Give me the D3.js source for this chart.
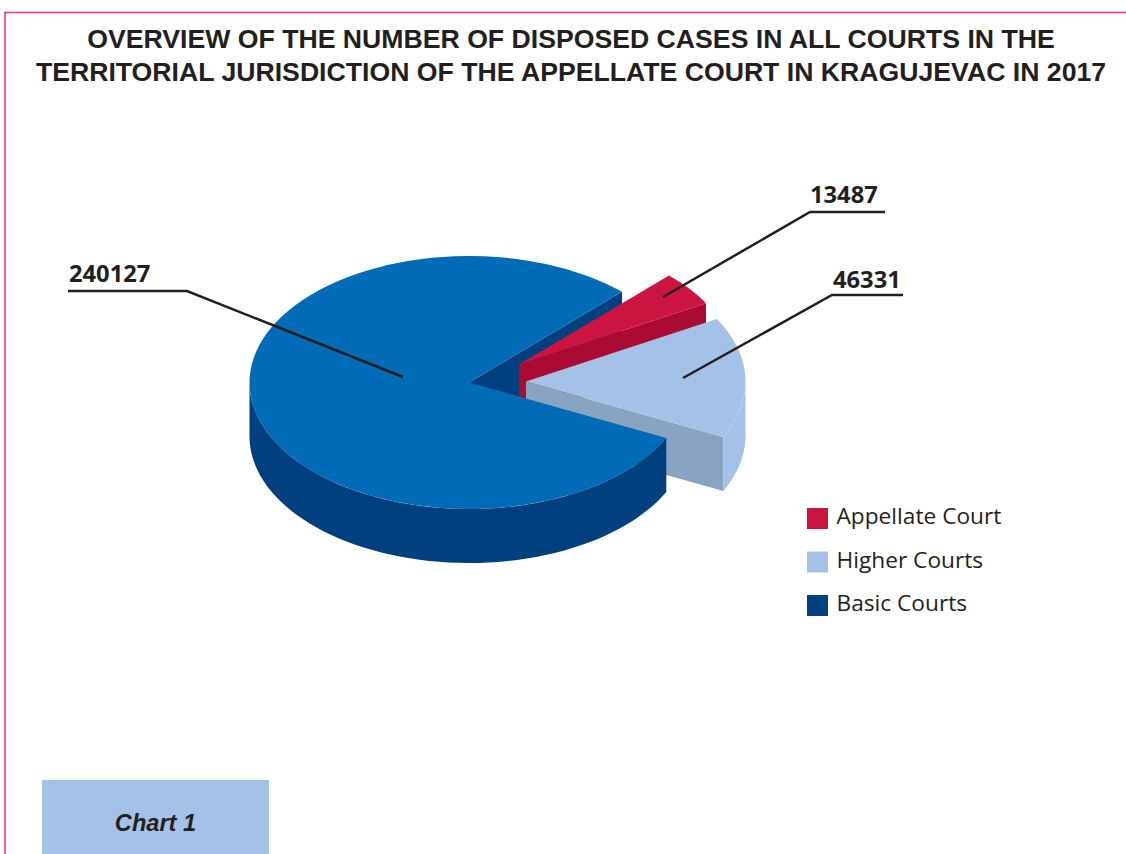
<!DOCTYPE html>
<html lang="en">
<head>
  <meta charset="UTF-8">
  <title>Disposed cases 2017</title>
  <style>
    html, body { margin: 0; padding: 0; background: #fff; overflow: hidden; }
    svg { display: block; }
  </style>
</head>
<body>
  <svg id="svg" width="1126" height="854"></svg>

  <script src="https://d3js.org/d3.v7.min.js"></script>
  <script>
    const titleLines = [
      'OVERVIEW OF THE NUMBER OF DISPOSED CASES IN ALL COURTS IN THE',
      'TERRITORIAL JURISDICTION OF THE APPELLATE COURT IN KRAGUJEVAC IN 2017'
    ]
    const categories = ['Appellate Court', 'Higher Courts', 'Basic Courts']
    const values = [13487, 46331, 240127]
    const caption = 'Chart 1'

    const topColor = d3.scaleOrdinal().domain(categories).range(['#cc1440', '#a4c2e7', '#006bb6'])
    const cutColor = d3.scaleOrdinal().domain(categories).range(['#ab0a33', '#89a4c2', '#00407f'])
    const rimColor = d3.scaleOrdinal().domain(categories).range(['#ab0a33', '#a4c2e7', '#00407f'])
    const legendColor = d3.scaleOrdinal().domain(categories).range(['#cc1440', '#a4c2e7', '#00407f'])

    const svg = d3.select('#svg')
    const ink = '#231f20'

    // page frame
    svg.append('path')
      .attr('d', 'M1126,12.5H5V854')
      .attr('fill', 'none')
      .attr('stroke', '#ee3b64')
      .attr('stroke-width', 1.6)

    svg.selectAll('.title')
      .data(titleLines)
      .enter()
      .append('text')
      .attr('class', 'title')
      .attr('x', 571)
      .attr('y', (d, i) => 48 + i * 32.5)
      .attr('text-anchor', 'middle')
      .attr('font-family', '"Liberation Sans", Arial, sans-serif')
      .attr('font-weight', 'bold')
      .attr('font-size', 26.65)
      .attr('fill', ink)
      .text(d => d)

    /* ---------------------------- pie ---------------------------- */
    const rx = 219.5
    const ry = 126.5
    const depth = 54
    const center = [469, 382.5]
    const startDeg = 44.2

    // how far each slice is pulled out of the pie, and its size against the main radius
    const offset = d3.scaleOrdinal().domain(categories).range([[50, -18], [57, -1], [0, 0]])
    const shrink = d3.scaleOrdinal().domain(categories).range([0.98, 1, 1])

    const slices = d3.pie().sort(null).value(d => d.value)
      .startAngle(startDeg * Math.PI / 180)
      .endAngle((startDeg + 360) * Math.PI / 180)(categories.map((name, i) => ({ name, value: values[i] })))

    const byName = name => slices.find(s => s.data.name === name)

    const origin = (s, drop) => {
      const o = offset(s.data.name)
      return [center[0] + o[0], center[1] + o[1] + drop]
    }
    const rimPoint = (s, a, drop) => {
      const o = origin(s, drop)
      const k = shrink(s.data.name)
      return [o[0] + k * rx * Math.sin(a), o[1] - k * ry * Math.cos(a)]
    }
    const line = d3.line()

    // flat vertical face going from the centre out along one cut edge
    const cutWall = (s, a) => {
      const top = [origin(s, 0), rimPoint(s, a, 0)]
      const bottom = [rimPoint(s, a, depth), origin(s, depth)]
      return line(top.concat(bottom)) + 'Z'
    }
    // curved outer face, only the part that looks toward the viewer
    const rimWall = s => {
      const from = Math.max(s.startAngle, Math.PI / 2)
      const to = Math.min(s.endAngle, Math.PI * 3 / 2)
      const steps = d3.range(0, 61).map(k => from + (to - from) * k / 60)
      const top = steps.map(a => rimPoint(s, a, 0))
      const bottom = steps.slice().reverse().map(a => rimPoint(s, a, depth))
      return line(top.concat(bottom)) + 'Z'
    }

    const arc = d3.arc().innerRadius(0).outerRadius(rx)
    const drawTop = s => {
      const o = origin(s, 0)
      const k = shrink(s.data.name)
      svg.append('path')
        .attr('d', arc(s))
        .attr('transform', `translate(${o[0]},${o[1]}) scale(${k},${k * ry / rx})`)
        .attr('fill', topColor(s.data.name))
    }
    const drawFace = (d, color) => svg.append('path').attr('d', d).attr('fill', color)

    const basic = byName('Basic Courts')
    const appellate = byName('Appellate Court')
    const higher = byName('Higher Courts')

    // painter's order, back to front
    drawFace(cutWall(basic, basic.endAngle), cutColor(basic.data.name))
    drawFace(cutWall(appellate, appellate.endAngle), cutColor(appellate.data.name))
    drawTop(appellate)
    drawFace(cutWall(higher, higher.endAngle), cutColor(higher.data.name))
    drawFace(rimWall(higher), rimColor(higher.data.name))
    drawTop(higher)
    drawFace(rimWall(basic), rimColor(basic.data.name))
    drawTop(basic)

    /* ------------------------ value leaders ----------------------- */
    const leaders = [
      { name: 'Basic Courts', path: [[68, 291], [187, 291], [403, 377]], tx: 69, ty: 282 },
      { name: 'Appellate Court', path: [[885, 212], [810, 212], [663, 297]], tx: 810, ty: 203 },
      { name: 'Higher Courts', path: [[903, 295], [832, 295], [683, 378]], tx: 833, ty: 288 }
    ]
    leaders.forEach(l => {
      svg.append('path')
        .attr('d', line(l.path))
        .attr('fill', 'none')
        .attr('stroke', ink)
        .attr('stroke-width', 2.5)
      svg.append('text')
        .attr('x', l.tx)
        .attr('y', l.ty)
        .attr('font-family', '"Open Sans", sans-serif')
        .attr('font-weight', 'bold')
        .attr('font-size', 23.7)
        .attr('fill', ink)
        .text(values[categories.indexOf(l.name)])
    })

    /* --------------------------- legend --------------------------- */
    const legendY = d3.scalePoint().domain(categories).range([508, 595])
    const legend = svg.selectAll('.legend')
      .data(categories)
      .enter()
      .append('g')
      .attr('class', 'legend')
      .attr('transform', d => `translate(807,${legendY(d)})`)
    legend.append('rect')
      .attr('width', 21)
      .attr('height', 21)
      .attr('fill', d => legendColor(d))
    legend.append('text')
      .attr('x', 29.5)
      .attr('y', 16.4)
      .attr('font-family', '"Open Sans", sans-serif')
      .attr('font-size', 22.7)
      .attr('fill', ink)
      .text(d => d)

    /* --------------------------- caption -------------------------- */
    svg.append('rect')
      .attr('x', 42)
      .attr('y', 780)
      .attr('width', 227)
      .attr('height', 74)
      .attr('fill', '#a4c2e7')
    svg.append('text')
      .attr('x', 155.5)
      .attr('y', 830.5)
      .attr('text-anchor', 'middle')
      .attr('font-family', '"Liberation Sans", Arial, sans-serif')
      .attr('font-weight', 'bold')
      .attr('font-style', 'italic')
      .attr('font-size', 23.6)
      .attr('fill', ink)
      .text(caption)
  </script>
</body>
</html>
